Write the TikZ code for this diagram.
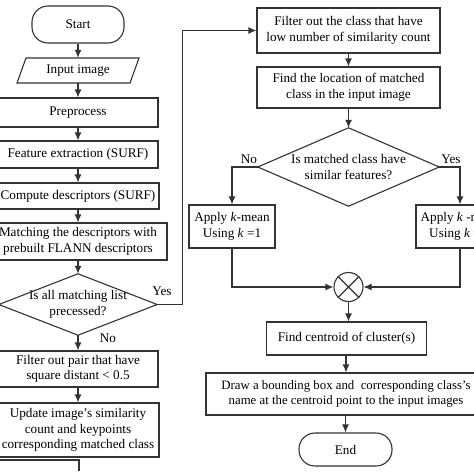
\documentclass[tikz,border=0pt]{standalone}
\usepackage{fontspec}
\setmainfont{Liberation Serif}
\usetikzlibrary{arrows.meta}
\tikzset{
  ln/.style={line width=1.1pt, draw=black!80},
  arr/.style={ln, -{Latex[length=8pt,width=7pt]}},
  box/.style={ln, draw, rectangle, inner sep=0pt, align=center, font=\fontsize{13.2}{15.5}\selectfont},
  term/.style={box, rounded corners=16pt},
  txt/.style={inner sep=0pt, align=center, font=\fontsize{13.2}{15.5}\selectfont},
  lbl/.style={inner sep=0pt, font=\fontsize{13.2}{14}\selectfont},
}
\begin{document}
\begin{tikzpicture}[x=1pt,y=-1pt]
\useasboundingbox (0,0) rectangle (474,474);
\clip (0,0) rectangle (474,474);
\fill[white] (0,0) rectangle (474,474);
% left column
\node[term, minimum width=92pt, minimum height=37pt] (start) at (78,24.5) {Start};
\node[txt, minimum width=104pt, minimum height=25pt] (input) at (78,70.5) {Input image};
\draw[ln] (26,58) -- (139,58) -- (130,83) -- (17,83) -- cycle;
\node[box, minimum width=160pt, minimum height=29pt] (pre) at (78,112.5) {Preprocess};
\node[box, minimum width=160pt, minimum height=27pt] (feat) at (78,154.5) {Feature extraction (SURF)};
\node[box, minimum width=162pt, minimum height=26pt] (comp) at (78,196) {Compute descriptors (SURF)};
\node[box, minimum width=178pt, minimum height=37pt] (match) at (78,241.5) {Matching the descriptors with\\prebuilt FLANN descriptors};
\node[txt, minimum width=158pt, minimum height=61pt] (d1) at (78,304.5) {Is all matching list\\precessed?};
\draw[ln] (d1.north) -- (d1.east) -- (d1.south) -- (d1.west) -- cycle;
\node[box, minimum width=160pt, minimum height=36pt] (fpair) at (78,369) {Filter out pair that have\\square distant < 0.5};
\node[box, minimum width=162pt, minimum height=54pt] (upd) at (78,430) {Update image’s similarity\\count and keypoints\\corresponding matched class};
\node[lbl] (yes1) at (162,291) {Yes};
\node[lbl] (no1) at (108,338) {No};
\coordinate (lb) at (-5,460);
\coordinate (lc) at (79,471);
\draw[ln] (lb) -| (lc);
\draw[arr] (start) -- (input);
\draw[arr] (input) -- (pre);
\draw[arr] (pre) -- (feat);
\draw[arr] (feat) -- (comp);
\draw[arr] (comp) -- (match);
\draw[arr] (match) -- (d1.north);
\draw[arr] (d1.south) -- (fpair);
\draw[arr] (fpair) -- (upd);
% right column
\node[box, minimum width=183pt, minimum height=45pt] (fcls) at (348.5,30.5) {Filter out the class that have\\low number of similarity count};
\node[box, minimum width=183pt, minimum height=41pt] (loc) at (348.5,87.5) {Find the location of matched\\class in the input image};
\node[txt, minimum width=181pt, minimum height=78pt] (d2) at (348.5,167) {Is matched class have\\similar features?};
\draw[ln] (d2.north) -- (d2.east) -- (d2.south) -- (d2.west) -- cycle;
\node[lbl] (no2) at (249,159) {No};
\node[lbl] (yes2) at (451,159) {Yes};
\node[box, minimum width=86pt, minimum height=43pt] (apl) at (232,226.5) {Apply \textit{k}-mean\\Using \textit{k} =1};
\node[box, minimum width=88pt, minimum height=43pt] (apr) at (460,226.5) {Apply \textit{k} -mean\\Using \textit{k} = n};
\node[ln, draw, circle, minimum size=29pt, inner sep=0pt] (mrg) at (348.5,287) {};
\draw[ln] (mrg.45) -- (mrg.225) (mrg.135) -- (mrg.315);
\node[box, minimum width=160pt, minimum height=33pt] (cen) at (346.5,338.5) {Find centroid of cluster(s)};
\node[box, minimum width=280pt, minimum height=42pt, font=\fontsize{12.8}{15.5}\selectfont] (drw) at (346,394) {Draw a bounding box and\ \ corresponding class’s\\name at the centroid point to the input images};
\node[term, minimum width=93pt, minimum height=33pt] (end) at (345.5,449.5) {End};
\draw[arr] (d1.east) -- ++(25,0) |- (fcls.west);
\draw[arr] (fcls) -- (loc);
\draw[arr] (loc) -- (d2.north);
\draw[arr] (d2.west) -| (apl.north);
\draw[arr] (d2.east) -| (apr.north);
\draw[arr] (apl.south) |- (mrg.west);
\draw[arr] (apr.south) |- (mrg.east);
\draw[arr] (mrg.south) -- (mrg.south |- cen.north);
\draw[arr] (cen.south -| drw.north) -- (drw.north);
\draw[arr] (drw.south -| end.north) -- (end.north);
\end{tikzpicture}
\end{document}
